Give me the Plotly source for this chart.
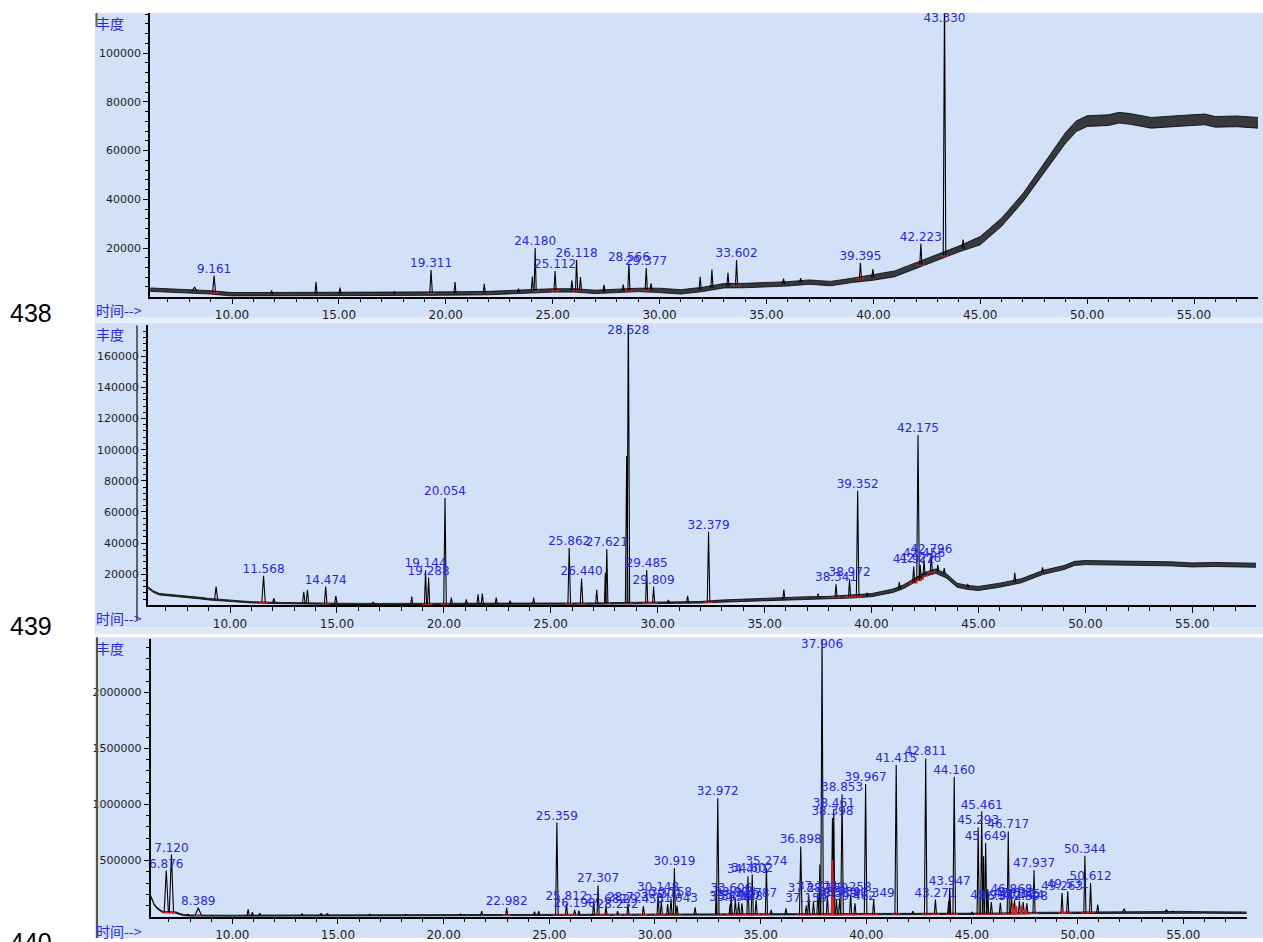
import plotly.graph_objects as go

# ---------------- data ----------------
# baseline: (time min, level, noise half-width)
P1_BASELINE = [
    (6.17, 2900, 700), (7.0, 2500, 700), (8.0, 2300, 700), (9.0, 1800, 700), (10.0, 1000, 700),
    (12.0, 1000, 700), (14.0, 1000, 700), (16.0, 1200, 700), (18.0, 1300, 700), (20.0, 1300, 700),
    (22.0, 1500, 700), (24.0, 2200, 700), (25.0, 2600, 700), (26.0, 2600, 700), (27.0, 2000, 700),
    (28.0, 2400, 700), (29.0, 2800, 700), (30.0, 2600, 900), (31.0, 2000, 900), (32.0, 3000, 900),
    (33.0, 4500, 900), (34.0, 4600, 900), (35.0, 4900, 900), (36.0, 5300, 900), (37.0, 6000, 900),
    (38.0, 5400, 900), (39.0, 6700, 900), (40.0, 8000, 1200), (41.0, 9400, 1200), (42.0, 12800, 1200),
    (43.0, 16200, 1200), (44.0, 19600, 1200), (45.0, 23000, 1700), (46.0, 30600, 1700), (47.0, 40700, 1700),
    (48.0, 53000, 2200), (49.0, 65300, 2200), (49.5, 70000, 2200), (50.0, 72100, 2200), (51.0, 72500, 2200),
    (51.5, 73500, 2200), (52.0, 73000, 2200), (53.0, 71400, 2200), (54.0, 72000, 2200), (55.0, 72500, 2200),
    (55.5, 72800, 2200), (56.0, 71800, 2200), (57.0, 72000, 2200), (58.0, 71400, 2200),
]
# peaks: (time, apex, base, half-width, label)
P1_PEAKS = [
    (8.25, 3900, 2300, 0.12, ''), (9.161, 8700, 1600, 0.07, '9.161'), (11.85, 2600, 1000, 0.05, ''),
    (13.93, 6100, 1000, 0.05, ''), (15.05, 3800, 1100, 0.05, ''), (17.6, 2200, 1200, 0.05, ''),
    (19.311, 11000, 1400, 0.06, '19.311'), (20.43, 6000, 1300, 0.05, ''), (21.8, 5300, 1500, 0.05, ''),
    (23.4, 3300, 1800, 0.05, ''), (24.05, 8300, 2200, 0.05, ''), (24.180, 20000, 2300, 0.05, '24.180'),
    (25.112, 10600, 2600, 0.05, '25.112'), (25.9, 6700, 2600, 0.05, ''), (26.118, 15100, 2600, 0.05, '26.118'),
    (26.3, 8100, 2500, 0.05, ''), (27.4, 4900, 2000, 0.05, ''), (28.3, 5000, 2400, 0.05, ''),
    (28.566, 13500, 2600, 0.05, '28.566'), (29.377, 11800, 2800, 0.05, '29.377'), (29.6, 5500, 2700, 0.05, ''),
    (31.9, 8300, 2900, 0.05, ''), (32.45, 11200, 3600, 0.05, ''), (33.2, 9800, 4300, 0.05, ''),
    (33.602, 15100, 4600, 0.05, '33.602'), (35.8, 7400, 5200, 0.05, ''), (36.6, 7600, 5800, 0.05, ''),
    (39.395, 13900, 7500, 0.05, '39.395'), (39.98, 11400, 8000, 0.05, ''), (42.223, 21700, 13000, 0.05, '42.223'),
    (43.330, 125000, 16800, 0.06, '43.330'), (44.2, 23500, 19800, 0.05, ''),
]
P1_RED = []

P2_BASELINE = [
    (6.17, 11500, 500), (6.4, 9000, 500), (6.7, 7200, 500), (7.6, 6200, 500), (8.6, 4700, 500),
    (9.0, 4000, 500), (10.0, 3000, 500), (11.0, 2000, 400), (12.0, 1600, 400), (13.0, 1300, 400),
    (14.0, 1200, 400), (15.0, 1000, 400), (17.0, 900, 400), (19.0, 900, 400), (21.0, 900, 400),
    (23.0, 1000, 400), (25.0, 1100, 400), (27.0, 1200, 400), (29.0, 1500, 500), (31.0, 1800, 500),
    (32.0, 2000, 500), (33.0, 2800, 700), (34.0, 3300, 800), (35.0, 3600, 800), (36.0, 4300, 800),
    (37.0, 4800, 800), (38.0, 5000, 800), (39.0, 5600, 900), (40.0, 6600, 1000), (41.0, 9400, 1100),
    (41.5, 12000, 1200), (42.0, 16000, 1300), (42.5, 20000, 1300), (43.0, 22000, 1400), (43.5, 19000, 1400),
    (44.0, 13000, 1300), (44.5, 11500, 1300), (45.0, 10900, 1300), (46.0, 13000, 1300), (47.0, 15800, 1300),
    (48.0, 21100, 1300), (49.0, 24300, 1300), (49.5, 27000, 1300), (50.0, 27500, 1300), (52.0, 27300, 1300),
    (54.0, 26700, 1300), (55.0, 26000, 1300), (56.0, 26300, 1300), (58.0, 25800, 1300),
]
P2_PEAKS = [
    (9.35, 12100, 4000, 0.07, ''), (11.568, 19000, 2000, 0.08, '11.568'), (12.05, 4500, 1700, 0.06, ''),
    (13.45, 8700, 1400, 0.06, ''), (13.62, 10000, 1400, 0.06, ''), (14.474, 12100, 1200, 0.06, '14.474'),
    (14.95, 6000, 1100, 0.06, ''), (16.7, 2200, 1000, 0.05, ''), (18.5, 5700, 900, 0.05, ''),
    (19.144, 22600, 900, 0.05, '19.144'), (19.288, 17900, 900, 0.05, '19.288'), (20.054, 69000, 900, 0.06, '20.054'),
    (20.35, 5000, 900, 0.05, ''), (21.05, 3800, 900, 0.05, ''), (21.6, 7200, 900, 0.05, ''),
    (21.8, 7600, 900, 0.05, ''), (22.45, 5000, 1000, 0.05, ''), (23.1, 3000, 1000, 0.05, ''),
    (24.2, 5000, 1000, 0.05, ''), (25.862, 36900, 1100, 0.06, '25.862'), (26.440, 17300, 1100, 0.06, '26.440'),
    (27.15, 10000, 1200, 0.05, ''), (27.55, 21000, 1200, 0.04, ''), (27.621, 36000, 1200, 0.05, '27.621'),
    (28.55, 96000, 1300, 0.06, ''), (28.628, 200000, 1300, 0.06, '28.628'), (29.485, 22800, 1500, 0.05, '29.485'),
    (29.809, 12100, 1500, 0.05, '29.809'), (30.5, 3500, 1600, 0.05, ''), (31.4, 6200, 1800, 0.05, ''),
    (32.379, 47300, 2000, 0.06, '32.379'), (35.9, 10200, 4200, 0.05, ''), (37.5, 7500, 4900, 0.05, ''),
    (38.341, 13600, 5200, 0.05, '38.341'), (38.972, 16800, 5500, 0.05, '38.972'), (39.352, 73700, 5800, 0.06, '39.352'),
    (39.8, 8000, 6300, 0.05, ''), (41.3, 15000, 10500, 0.05, ''), (41.972, 25000, 14500, 0.05, '41.972'),
    (42.175, 109500, 16000, 0.06, '42.175'), (42.276, 26000, 17000, 0.05, '42.276'), (42.456, 29000, 19000, 0.05, '42.456'),
    (42.796, 32000, 21500, 0.05, '42.796'), (43.1, 26000, 22000, 0.05, ''), (43.4, 24000, 20000, 0.05, ''),
    (44.5, 13800, 11500, 0.05, ''), (46.7, 21000, 14700, 0.05, ''), (48.0, 24500, 21000, 0.05, ''),
]
P2_RED = []

P3_BASELINE = [
    (6.14, 183000, 6000), (6.3, 110000, 6000), (6.45, 75000, 6000), (6.7, 42000, 6000), (6.8, 40000, 6000),
    (7.3, 38000, 6000), (7.5, 25000, 6000), (7.7, 14000, 5000), (8.0, 10000, 5000), (9.0, 8000, 5000),
    (10.0, 8000, 5000), (12.0, 10000, 5000), (14.0, 12000, 5000), (16.0, 12000, 5000), (18.0, 12000, 5000),
    (20.0, 12000, 5000), (22.0, 14000, 5000), (24.0, 15000, 5000), (26.0, 16000, 5000), (28.0, 16000, 5000),
    (30.0, 17000, 5000), (32.0, 18000, 5000), (34.0, 20000, 5000), (36.0, 20000, 5000), (38.0, 20000, 5000),
    (40.0, 20000, 5000), (42.0, 20000, 5000), (44.0, 22000, 5000), (46.0, 26000, 6000), (48.0, 33000, 6000),
    (50.0, 36000, 7000), (51.0, 38000, 7000), (52.0, 40000, 7000), (53.0, 40000, 7000), (54.0, 42000, 7000),
    (55.0, 40000, 7000), (56.0, 38000, 7000), (57.0, 36000, 7000), (58.0, 35000, 7000),
]
P3_PEAKS = [
    (6.876, 411000, 40000, 0.1, '6.876'), (7.120, 553000, 40000, 0.1, '7.120'), (7.9, 20000, 10000, 0.08, ''),
    (8.389, 79000, 10000, 0.15, '8.389'), (10.75, 65000, 8000, 0.06, ''), (10.95, 41000, 8000, 0.05, ''),
    (11.3, 30000, 8000, 0.05, ''), (13.3, 28000, 10000, 0.05, ''), (14.2, 30000, 11000, 0.05, ''),
    (14.5, 32000, 11000, 0.05, ''), (16.5, 22000, 12000, 0.05, ''), (18.2, 20000, 12000, 0.05, ''),
    (20.8, 25000, 12000, 0.05, ''), (21.8, 50000, 14000, 0.05, ''), (22.982, 79000, 14000, 0.05, '22.982'),
    (24.3, 45000, 15000, 0.05, ''), (24.5, 50000, 15000, 0.05, ''), (25.359, 839000, 15000, 0.06, '25.359'),
    (25.812, 118000, 16000, 0.05, '25.812'), (26.198, 60000, 16000, 0.05, '26.198'), (26.4, 55000, 16000, 0.05, ''),
    (27.1, 138000, 16000, 0.05, ''), (27.307, 278000, 16000, 0.05, '27.307'), (27.682, 94000, 16000, 0.05, '27.682'),
    (28.232, 50000, 16000, 0.05, '28.232'), (28.723, 112000, 16000, 0.05, '28.723'), (29.453, 94000, 17000, 0.05, '29.453'),
    (30.148, 198000, 17000, 0.05, '30.148'), (30.301, 140000, 17000, 0.05, '30.301'), (30.6, 112000, 17000, 0.05, ''),
    (30.758, 160000, 17000, 0.05, '30.758'), (30.919, 434000, 17000, 0.05, '30.919'), (31.043, 100000, 17000, 0.05, '31.043'),
    (31.9, 83000, 18000, 0.05, ''), (32.9, 272000, 18000, 0.04, ''), (32.972, 1055000, 18000, 0.06, '32.972'),
    (33.556, 110000, 19000, 0.05, '33.556'), (33.606, 190000, 19000, 0.05, '33.606'), (33.803, 160000, 19000, 0.05, '33.803'),
    (33.960, 130000, 19000, 0.05, '33.960'), (34.118, 120000, 20000, 0.05, '34.118'), (34.401, 360000, 20000, 0.05, '34.401'),
    (34.602, 375000, 20000, 0.05, '34.602'), (34.787, 150000, 20000, 0.05, '34.787'), (35.274, 434000, 20000, 0.05, '35.274'),
    (35.5, 60000, 20000, 0.05, ''), (36.2, 75000, 20000, 0.05, ''), (36.898, 626000, 20000, 0.06, '36.898'),
    (37.159, 100000, 20000, 0.05, '37.159'), (37.277, 190000, 20000, 0.05, '37.277'), (37.5, 130000, 20000, 0.05, ''),
    (37.711, 212000, 20000, 0.05, '37.711'), (37.8, 464000, 20000, 0.04, ''), (37.906, 2500000, 20000, 0.06, '37.906'),
    (38.159, 190000, 20000, 0.05, '38.159'), (38.398, 880000, 20000, 0.05, '38.398'), (38.461, 950000, 20000, 0.05, '38.461'),
    (38.589, 150000, 20000, 0.05, '38.589'), (38.739, 160000, 20000, 0.05, '38.739'), (38.853, 1090000, 20000, 0.06, '38.853'),
    (39.258, 198000, 20000, 0.05, '39.258'), (39.462, 120000, 20000, 0.05, '39.462'), (39.967, 1183000, 20000, 0.06, '39.967'),
    (40.349, 153000, 20000, 0.05, '40.349'), (41.415, 1351000, 20000, 0.06, '41.415'), (42.2, 50000, 20000, 0.05, ''),
    (42.811, 1410000, 20000, 0.06, '42.811'), (43.271, 153000, 21000, 0.05, '43.271'), (43.9, 138000, 22000, 0.05, ''),
    (43.947, 258000, 22000, 0.05, '43.947'), (44.160, 1248000, 22000, 0.06, '44.160'), (45.0, 40000, 24000, 0.05, ''),
    (45.293, 795000, 24000, 0.05, '45.293'), (45.461, 937000, 24000, 0.05, '45.461'), (45.55, 538000, 24000, 0.04, ''),
    (45.649, 656000, 25000, 0.05, '45.649'), (45.75, 245000, 25000, 0.04, ''), (45.917, 130000, 25000, 0.05, '45.917'),
    (46.342, 124000, 26000, 0.05, '46.342'), (46.717, 760000, 26000, 0.05, '46.717'), (46.868, 180000, 27000, 0.05, '46.868'),
    (47.012, 150000, 27000, 0.05, '47.012'), (47.245, 140000, 28000, 0.05, '47.245'), (47.424, 130000, 28000, 0.05, '47.424'),
    (47.598, 120000, 29000, 0.05, '47.598'), (47.937, 413000, 30000, 0.05, '47.937'), (49.263, 212000, 33000, 0.05, '49.263'),
    (49.531, 227000, 34000, 0.05, '49.531'), (50.344, 544000, 36000, 0.05, '50.344'), (50.612, 301000, 37000, 0.05, '50.612'),
    (50.95, 109000, 38000, 0.05, ''), (52.2, 70000, 40000, 0.08, ''), (54.2, 60000, 42000, 0.08, ''),
    (54.5, 50000, 41000, 0.08, ''),
]
# red integrated peak fills: (time, apex, base)
P3_RED = [(38.40, 505000, 20000), (46.95, 115000, 27000), (47.10, 95000, 27000), (47.35, 100000, 28000),
          (47.55, 70000, 29000), (49.30, 60000, 33000), (50.50, 45000, 36000)]

X_TICKS = [10, 15, 20, 25, 30, 35, 40, 45, 50, 55]
P1_YTICKS = [20000, 40000, 60000, 80000, 100000]
P2_YTICKS = [20000, 40000, 60000, 80000, 100000, 120000, 140000, 160000]
P3_YTICKS = [500000, 1000000, 1500000, 2000000]
ROW_NUMBERS = ['438', '439', '440']

# ---------------- drawing ----------------
W, H = 1263, 942
FONT = "DejaVu Sans"
CJK = "Noto Sans CJK SC"
BLUE = "#2828dc"
BG = "#d3e1f8"


def px_x(v):
    return v / W


def px_y(v):
    return 1 - v / H


PANELS = [
    # (baseline, peaks, reds, x pixel span, y pixel (zero, top), x range, y range max, yticks, minor step)
    (P1_BASELINE, P1_PEAKS, P1_RED, (150, 1258), (298, 13), (6.164, 57.994), 116500, P1_YTICKS, 4000),
    (P2_BASELINE, P2_PEAKS, P2_RED, (148, 1256), (608, 326), (6.165, 57.98), 180300, P2_YTICKS, 4000),
    (P3_BASELINE, P3_PEAKS, P3_RED, (150.7, 1246.7), (920.6, 642), (6.139, 58.0), 2472000, P3_YTICKS, 100000),
]

fig = go.Figure()
layout = dict(width=W, height=H, margin=dict(l=0, r=0, t=0, b=0), paper_bgcolor='white',
              plot_bgcolor='rgba(0,0,0,0)', showlegend=False)

for i, (base, peaks, reds, xs, ys, xr, ymax, yt, ystep) in enumerate(PANELS, start=1):
    xa = 'x' if i == 1 else f'x{i}'
    ya = 'y' if i == 1 else f'y{i}'
    common = dict(xaxis=xa, yaxis=ya, hoverinfo='skip', showlegend=False)
    bt = [b[0] for b in base]
    lo = [b[1] - b[2] for b in base]
    hi = [b[1] + b[2] for b in base]
    fig.add_trace(go.Scatter(x=bt, y=lo, mode='lines', line=dict(color='black', width=0.8), **common))
    fig.add_trace(go.Scatter(x=bt, y=hi, mode='lines', line=dict(color='black', width=0.8),
                             fill='tonexty', fillcolor='rgba(10,10,10,0.78)', **common))
    # red integration marks
    rx, ry = [], []
    for t, h, b, w, lab in peaks:
        if lab:
            rx += [t - 0.18, t + 0.18, None]
            ry += [b, b, None]
    fig.add_trace(go.Scatter(x=rx, y=ry, mode='lines', line=dict(color='#e02020', width=1.5), **common))
    # peaks
    pxs, pys = [], []
    for t, h, b, w, lab in peaks:
        pxs += [t - w, t, t + w, None]
        pys += [b, h, b, None]
    fig.add_trace(go.Scatter(x=pxs, y=pys, mode='lines', line=dict(color='black', width=1.1), **common))
    if reds:
        qx, qy = [], []
        for t, h, b in reds:
            qx += [t - 0.04, t, t + 0.04, None]
            qy += [b, h, b, None]
        fig.add_trace(go.Scatter(x=qx, y=qy, mode='lines', line=dict(color='#e02020', width=1.6),
                                 fill='toself', fillcolor='#e02020', **common))
    # labels
    lx, ly, lt, lp = [], [], [], []
    for t, h, b, w, lab in peaks:
        if not lab:
            continue
        lx.append(t)
        lt.append(lab)
        if h > 0.93 * ymax:
            ly.append(ymax)
            lp.append('bottom center')
        else:
            ly.append(h)
            lp.append('top center')
    fig.add_trace(go.Scatter(x=lx, y=ly, text=lt, mode='text', textposition=lp, cliponaxis=False,
                             textfont=dict(family=FONT, size=12, color=BLUE), **common))

    xkey = 'xaxis' if i == 1 else f'xaxis{i}'
    ykey = 'yaxis' if i == 1 else f'yaxis{i}'
    layout[xkey] = dict(domain=[px_x(xs[0]), px_x(xs[1])], range=list(xr), anchor=ya,
                        showline=True, linecolor='black', linewidth=1.5, ticks='outside', ticklen=6,
                        tickcolor='black', tickmode='array', tickvals=X_TICKS,
                        ticktext=[f'{v:.2f}' for v in X_TICKS],
                        tickfont=dict(family=FONT, size=12, color='#1e1e1e'),
                        minor=dict(tickmode='array', tickvals=[v for v in range(7, 58) if v % 5],
                                   ticklen=4, ticks='outside', tickcolor='black'),
                        showgrid=False, zeroline=False, fixedrange=True)
    minor_y = [k * ystep for k in range(1, int(ymax // ystep) + 1) if k % 5]
    layout[ykey] = dict(domain=[px_y(ys[0]), px_y(ys[1])], range=[0, ymax], anchor=xa,
                        showline=True, linecolor='black', linewidth=1.8, ticks='outside', ticklen=5,
                        tickcolor='black', tickmode='array', tickvals=yt, ticktext=[str(v) for v in yt],
                        tickfont=dict(family=FONT, size=11, color='#1e1e1e'),
                        minor=dict(tickmode='array', tickvals=minor_y, ticklen=3, ticks='outside',
                                   tickcolor='black'),
                        showgrid=False, zeroline=False, fixedrange=True)

shapes = []


def rect(x0, y0, x1, y1, color):
    shapes.append(dict(type='rect', xref='paper', yref='paper', x0=px_x(x0), x1=px_x(x1),
                       y0=px_y(y1), y1=px_y(y0), fillcolor=color, line=dict(width=0), layer='below'))


def vline(x, y0, y1, color, width):
    shapes.append(dict(type='line', xref='paper', yref='paper', x0=px_x(x), x1=px_x(x),
                       y0=px_y(y1), y1=px_y(y0), line=dict(color=color, width=width), layer='above'))


rect(95, 13, 1263, 319, BG)
rect(95, 319, 1263, 323, '#e6eefb')
rect(95, 324, 1263, 630, BG)
rect(95, 630, 1263, 637, '#e0e9f8')
rect(95, 640, 1263, 942, BG)
vline(96.5, 13, 27, '#6a6440', 2)
vline(137, 327, 623, '#3a3a3a', 1.5)
vline(97, 640, 942, '#5b5636', 2)
layout['shapes'] = shapes

ann = []
for top, lab_y in [(12, 311), (324, 621), (640, 935)]:
    ann.append(dict(text='丰度', xref='paper', yref='paper', x=px_x(95), y=px_y(top), xanchor='left',
                    yanchor='top', showarrow=False, borderpad=0,
                    font=dict(family=CJK, size=14, color=BLUE)))
    ann.append(dict(text='时间-->', xref='paper', yref='paper', x=px_x(95), y=px_y(lab_y), xanchor='left',
                    yanchor='middle', showarrow=False, borderpad=0,
                    font=dict(family=CJK, size=14, color=BLUE)))
for txt, cy in zip(ROW_NUMBERS, [314, 629, 946]):
    ann.append(dict(text=txt, xref='paper', yref='paper', x=px_x(31), y=px_y(cy), xanchor='center',
                    yanchor='middle', showarrow=False,
                    font=dict(family='Liberation Sans', size=25, color='black')))
layout['annotations'] = ann

fig.update_layout(**layout)
fig.write_html("out.html", config={'displayModeBar': False},
               post_script="document.body.style.margin='0px';document.body.style.overflow='hidden';")
